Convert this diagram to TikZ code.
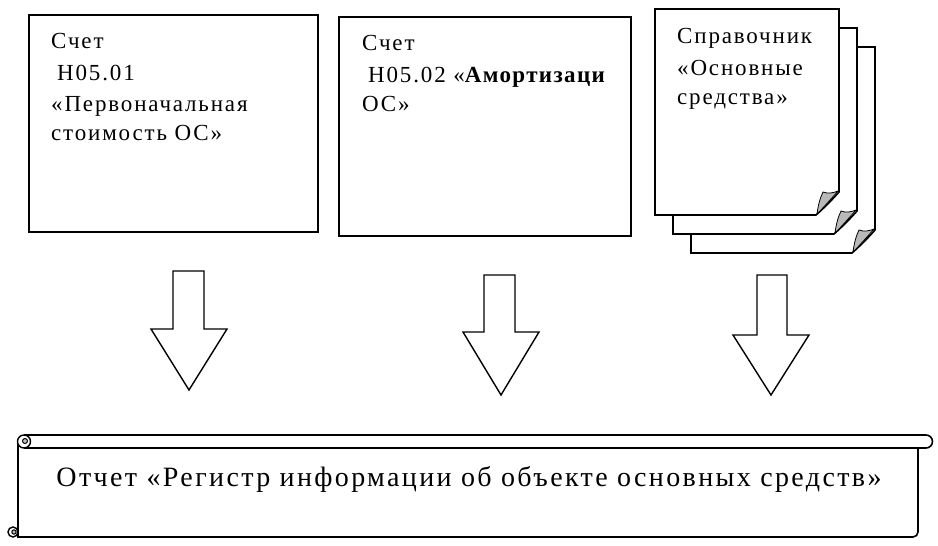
\documentclass[tikz,border=0pt]{standalone}
\usepackage{fontspec}
\setmainfont{Liberation Serif}
\newfontfamily\boxfont[LetterSpace=8]{Liberation Serif}
\newfontfamily\boldwide[LetterSpace=6]{Liberation Serif Bold}
\newfontfamily\repfont[LetterSpace=8.5]{Liberation Serif}
\begin{document}
\begin{tikzpicture}[x=1pt,y=-1pt,
  box/.style={draw,line width=1.6pt,fill=white},
  txt/.style={anchor=base west,inner sep=0pt,font=\boxfont\fontsize{23}{27}\selectfont},
  bigtxt/.style={anchor=base,inner sep=0pt,font=\repfont\fontsize{28}{32}\selectfont},
  blockarrow/.style={draw,line width=1.4pt,fill=white,line join=miter},
  page/.style={draw,line width=1.6pt,fill=white},
  flap/.style={draw,line width=0.8pt,fill=gray!55}]
\useasboundingbox (0,0) rectangle (938,546);
% box 1
\draw[box] (29,15) rectangle (318,232);
\node[txt] (b1a) at (51,48) {Счет};
\node[txt] (b1b) at (57,80) {Н05.01};
\node[txt] (b1c) at (51,111) {«Первоначальная};
\node[txt] (b1d) at (51,140) {стоимость ОС»};
% box 2
\draw[box] (339,17) rectangle (631,236);
\begin{scope}
  \clip (339,17) rectangle (630,236);
  \node[txt] (b2a) at (362,50) {Счет};
  \node[txt] (b2b) at (368,82) {Н05.02 «{\boldwide\fontsize{23}{27}\selectfont Амортизаци}};
  \node[txt] (b2c) at (362,111) {ОС»};
\end{scope}
% document stack
\foreach \dx/\dy in {36/38,18/19,0/0}{
  \begin{scope}[shift={(\dx,\dy)}]
    \draw[page] (655,9) -- (839,9) -- (839,192) .. controls (832,200) and (824,208) .. (816,215) -- (655,215) -- cycle;
    \draw[flap] (817,214) .. controls (818,206) and (820,198) .. (823,192) .. controls (828,194) and (833,193) .. (838,191) .. controls (831,199) and (824,207) .. (817,214) -- cycle;
  \end{scope}
}
\node[txt] (d1) at (677,43) {Справочник};
\node[txt] (d2) at (677,75) {«Основные};
\node[txt] (d3) at (677,104) {средства»};
% arrows
\draw[blockarrow] (173,271) -- (204,271) -- (204,329) -- (227,329) -- (189,390) -- (151,329) -- (173,329) -- cycle;
\draw[blockarrow] (484,275) -- (515,275) -- (515,332) -- (539,332) -- (501,395) -- (463,332) -- (484,332) -- cycle;
\draw[blockarrow] (757,275) -- (787,275) -- (787,335) -- (809,335) -- (771,395) -- (733,335) -- (757,335) -- cycle;
% scroll
\draw[line width=1.6pt,fill=white] (18,441) -- (18,537) -- (913,537) arc[start angle=90,end angle=0,radius=5] -- (918,448);
\draw[line width=1.6pt,fill=white] (24,435) -- (926,435) arc[start angle=-90,end angle=90,radius=6.5] -- (24,448);
\draw[line width=1.4pt,fill=white] (24,441.5) circle[radius=6.5];
\draw[line width=1pt,fill=gray!50] (25,441) circle[radius=2.5];
\draw[line width=1.4pt,fill=white] (13,532) circle[radius=5];
\draw[line width=1pt,fill=gray!50] (14,532) circle[radius=2.2];
\node[bigtxt] (rep) at (469,486) {Отчет «Регистр информации об объекте основных средств»};
\end{tikzpicture}
\end{document}
